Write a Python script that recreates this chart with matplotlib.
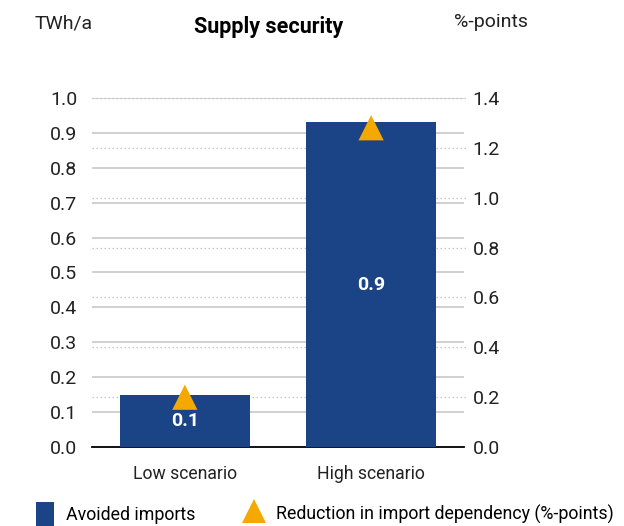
import matplotlib
matplotlib.use("Agg")
import matplotlib.pyplot as plt
from matplotlib.patches import Patch
from matplotlib.lines import Line2D

# data
scenarios = ["Low scenario", "High scenario"]
avoided_imports = [0.15, 0.93]          # TWh/a
bar_labels = ["0.1", "0.9"]
dependency_reduction = [0.20, 1.28]     # %-points
left_ticks = [i / 10 for i in range(11)]
right_ticks = [i / 10 for i in range(0, 15, 2)]

plt.rcParams['font.family'] = ['Roboto', 'DejaVu Sans']

bar_color = "#1a4486"
tri_color = "#f5a800"
grid_color = "#c4c4c4"

fig = plt.figure(figsize=(6.24, 5.26), dpi=100)
ax = fig.add_axes([0.147, 0.150, 0.597, 0.664])
ax2 = ax.twinx()

x = list(range(len(scenarios)))
ax.set_xlim(-0.5, 1.5)
ax.set_ylim(0, 1.0)
ax2.set_ylim(0, 1.4)

# solid grid for left axis, dotted grid for right axis (both behind the bars)
ax.yaxis.grid(True, color=grid_color, linewidth=1.1, zorder=0)
for t in right_ticks[1:]:
    ax.axhline(t / 1.4, xmin=0, xmax=1.005, color=grid_color, linewidth=0.9,
               linestyle=(0, (1.2, 2)), zorder=1, clip_on=False)
ax.set_axisbelow(True)

ax.bar(x, avoided_imports, width=0.70, color=bar_color, zorder=3)
for xi, v, lab in zip(x, avoided_imports, bar_labels):
    ax.text(xi, v / 2, lab, ha="center", va="center", color="white",
            fontsize=14, fontweight="bold", zorder=5)

ax2.scatter(x, dependency_reduction, marker="^", s=330, color=tri_color,
            edgecolors="none", zorder=6)

ax.set_yticks(left_ticks)
ax.set_yticklabels([f"{t:.1f}" for t in left_ticks])
ax2.set_yticks(right_ticks)
ax2.set_yticklabels([f"{t:.1f}" for t in right_ticks])

for a in (ax, ax2):
    for s in a.spines.values():
        s.set_visible(False)
    a.tick_params(axis="y", length=0, labelsize=14, colors="#222222")
ax.spines["bottom"].set_visible(True)
ax.spines["bottom"].set_color("black")
ax.spines["bottom"].set_linewidth(1.3)
ax.tick_params(axis="y", pad=10.5)
ax2.tick_params(axis="y", pad=6)

ax.set_xticks(x)
ax.set_xticklabels(scenarios, fontsize=12.7, color="#222222")
ax.tick_params(axis="x", length=0, pad=13)

fig.text(0.056, 0.955, "TWh/a", fontsize=14, color="#222222", va="center")
fig.text(0.43, 0.948, "Supply security", fontsize=15.5, fontweight="bold",
         ha="center", va="center")
fig.text(0.727, 0.958, "%-points", fontsize=14, color="#222222", va="center")

handles = [
    Patch(facecolor=bar_color, edgecolor="none"),
    Line2D([], [], marker="^", linestyle="none", color=tri_color,
           markersize=17, markeredgewidth=0),
]
fig.legend(handles, ["Avoided imports", "Reduction in import dependency (%-points)"],
           loc="lower left", bbox_to_anchor=(0.032, -0.03), ncol=2, frameon=False,
           fontsize=12.8, handlelength=1.0, handleheight=1.7, columnspacing=2.8,
           handletextpad=0.7)

fig.savefig("out.png", dpi=100)
